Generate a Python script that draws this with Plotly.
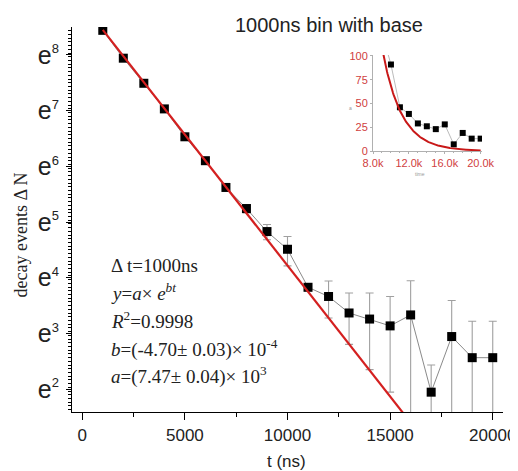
import numpy as np
import plotly.graph_objects as go

# data
t_ns = [1000, 2000, 3000, 4000, 5000, 6000, 7000, 8000, 9000, 10000,
        11000, 12000, 13000, 14000, 15000, 16000, 17000, 18000, 19000, 20000]
counts = [4629, 2808, 1790, 1130, 685, 446, 276, 189, 125, 91,
          46, 39, 29, 26, 23, 28, 7, 19, 13, 13]
errors = [68, 53, 42, 33, 26, 21, 17, 14, 17, 23.5,
          3, 12.5, 12.5, 15.5, 16, 23.7, 4.4, 17.3, 12, 12]

# fit parameters (from the annotation)
fit_a = 7470.0
fit_b = -4.70e-4

y_tick_powers = [2, 3, 4, 5, 6, 7, 8]
x_tick_vals = [0, 5000, 10000, 15000, 20000]
inset_x_ticks = [8000, 12000, 16000, 20000]
inset_x_text = ["8.0k", "12.0k", "16.0k", "20.0k"]
inset_y_ticks = [0, 25, 50, 75, 100]

fit_t_main = np.linspace(1000, 20000, 200)
fit_y_main = fit_a * np.exp(fit_b * fit_t_main)
fit_t_inset = np.linspace(8000, 20000, 200)
fit_y_inset = fit_a * np.exp(fit_b * fit_t_inset)

RED = "#d42020"
GRAY = "#8a8a8a"

# page body has an 8px margin; work in screenshot pixels and shift
OFF = 8
W, H = 518 - OFF, 471 - OFF
PLOT_X0, PLOT_X1, PLOT_Y0, PLOT_Y1 = 72, 503, 27, 412  # screenshot pixels
L, R = PLOT_X0 - OFF, W - (PLOT_X1 - OFF)
T, B = PLOT_Y0 - OFF, H - (PLOT_Y1 - OFF)
pw, ph = W - L - R, H - T - B


def px(xs):
    return (xs - OFF - L) / pw


def py(ys):
    return (H - B - (ys - OFF)) / ph


fig = go.Figure()

# main data with error bars
fig.add_trace(go.Scatter(
    x=t_ns, y=counts, mode="lines+markers",
    line=dict(color=GRAY, width=1),
    marker=dict(symbol="square", size=9, color="black"),
    error_y=dict(type="data", array=errors, visible=True, color="#a0a0a0",
                 thickness=1.1, width=4),
    showlegend=False, xaxis="x", yaxis="y"))

# fit line
fig.add_trace(go.Scatter(
    x=fit_t_main, y=fit_y_main, mode="lines",
    line=dict(color=RED, width=2.2), showlegend=False,
    xaxis="x", yaxis="y"))

# inset
fig.add_trace(go.Scatter(
    x=t_ns, y=counts, mode="lines+markers",
    line=dict(color="#aaaaaa", width=0.8),
    marker=dict(symbol="square", size=6, color="black"),
    showlegend=False, xaxis="x2", yaxis="y2"))
fig.add_trace(go.Scatter(
    x=fit_t_inset, y=fit_y_inset, mode="lines",
    line=dict(color="#c81818", width=2), showlegend=False,
    xaxis="x2", yaxis="y2"))

ln10 = np.log(10)
y_tick_vals = [float(np.exp(p)) for p in y_tick_powers]
y_tick_text = ["e<sup><span style='font-size:13px'>%d</span></sup>" % p for p in y_tick_powers]
minor_vals = [float(np.exp(1.5 + k / 15.0)) for k in range(0, 15 * 8)]
minor_vals = [v for v in minor_vals if np.log(v) < 8.5]

serif = "Liberation Serif, Times New Roman, serif"
dark = "#222222"

annotations = [
    dict(text="1000ns bin with base", x=px(329), y=py(25), xref="paper", yref="paper",
         xanchor="center", yanchor="middle", showarrow=False,
         font=dict(size=20, color=dark)),
    dict(text="decay events Δ N", textangle=-90, x=px(8.5), y=py(235),
         xref="paper", yref="paper", xanchor="left", yanchor="middle",
         showarrow=False, font=dict(size=18, family=serif, color=dark)),
    dict(text="t (ns)", x=px(286), y=py(461), xref="paper", yref="paper",
         xanchor="center", yanchor="middle", showarrow=False,
         font=dict(size=17, color=dark)),
    dict(text="time", x=px(427), y=py(174), xref="paper", yref="paper",
         showarrow=False, font=dict(size=5, color="#999999")),
    dict(text="a", x=px(350), y=py(103), xref="paper", yref="paper",
         showarrow=False, font=dict(size=5, color="#999999")),
]

lines = [
    "Δ t=1000ns",
    "<i>y</i>=<i>a</i>× <i>e</i><sup><i>bt</i></sup>",
    "<i>R</i><sup>2</sup>=0.9998",
    "<i>b</i>=(-4.70± 0.03)× 10<sup>-4</sup>",
    "<i>a</i>=(7.47± 0.04)× 10<sup>3</sup>",
]
line_y = [265, 292, 320, 348, 375]
for txt, yy in zip(lines, line_y):
    annotations.append(dict(text=txt, x=px(109), y=py(yy), xref="paper", yref="paper",
                            xanchor="left", yanchor="middle", showarrow=False,
                            font=dict(size=19, family=serif, color=dark)))

fig.update_layout(
    width=W, height=H,
    margin=dict(l=L, r=R, t=T, b=B, autoexpand=False),
    paper_bgcolor="white", plot_bgcolor="white",
    font=dict(family="Liberation Sans, Arial, sans-serif", color=dark),
    xaxis=dict(
        range=[-500, 20500], showgrid=False, zeroline=False, automargin=False,
        showline=True, linecolor="black", linewidth=1.2,
        ticks="outside", ticklen=7, tickwidth=1.2, tickcolor="black",
        tickvals=x_tick_vals, ticktext=[str(v) for v in x_tick_vals],
        tickfont=dict(size=17, color=dark),
        minor=dict(tickvals=[2500, 7500, 12500, 17500], ticks="outside",
                   ticklen=4, tickcolor="black", tickwidth=1.2),
    ),
    yaxis=dict(
        type="log", range=[1.59 / ln10, 8.5 / ln10], automargin=False,
        showgrid=False, zeroline=False,
        showline=True, linecolor="black", linewidth=1.2,
        ticks="outside", ticklen=5, tickwidth=1.2, tickcolor="black",
        tickvals=y_tick_vals, ticktext=y_tick_text,
        tickfont=dict(size=25, color=dark),
        ticklabelstandoff=2,
        minor=dict(tickvals=minor_vals, ticks="outside", ticklen=3,
                   tickcolor="black", tickwidth=1),
    ),
    xaxis2=dict(
        domain=[px(373), px(482)], anchor="y2", range=[8000, 20150], automargin=False,
        showgrid=False, zeroline=False, showline=True, linecolor="#b0b0b0",
        linewidth=1, ticks="outside", ticklen=2, tickcolor="#b0b0b0",
        tickvals=inset_x_ticks, ticktext=inset_x_text,
        tickfont=dict(size=11, color="#d04040"),
        minor=dict(dtick=1000, ticks="outside", ticklen=1, tickcolor="#b0b0b0"),
    ),
    yaxis2=dict(
        domain=[py(151), py(55)], anchor="x2", range=[0, 101], automargin=False,
        showgrid=False, zeroline=False, showline=True, linecolor="#b0b0b0",
        linewidth=1, ticks="outside", ticklen=2, tickcolor="#b0b0b0",
        tickvals=inset_y_ticks, tickfont=dict(size=11, color="#d04040"),
    ),
    annotations=annotations,
)

fig.write_html("out.html")
